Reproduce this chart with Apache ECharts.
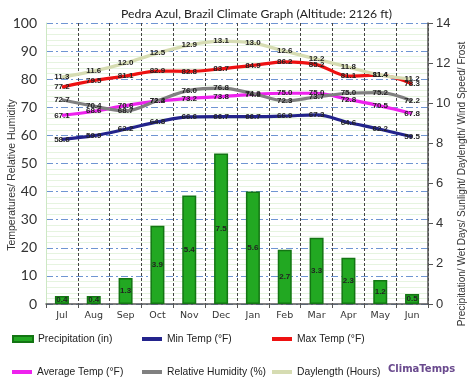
<!DOCTYPE html>
<html><head><meta charset="utf-8">
<script src="https://cdn.jsdelivr.net/npm/echarts@6/dist/echarts.min.js"></script>
<style>html,body{margin:0;padding:0;background:#fff}#c{width:474px;height:389px}</style>
</head><body><div id="c"></div>
<script>
const months = ['Jul','Aug','Sep','Oct','Nov','Dec','Jan','Feb','Mar','Apr','May','Jun'];
const precipitation = [0.4,0.4,1.3,3.9,5.4,7.5,5.6,2.7,3.3,2.3,1.2,0.5];
const minTemp = [58.6,59.9,62.2,64.8,66.6,66.7,66.7,66.9,67.3,64.6,62.2,59.5];
const maxTemp = [77.2,79.5,81.1,82.9,82.8,83.7,84.9,86.2,85.2,81.1,81.4,78.3];
const avgTemp = [67.1,68.6,70.6,72.2,73.2,73.8,74.6,75.0,75.0,72.8,70.5,67.8];
const humidity = [72.7,70.4,68.7,72.4,76.0,76.8,74.9,72.3,73.7,75.0,75.2,72.2];
const daylength = [11.3,11.6,12.0,12.5,12.9,13.1,13.0,12.6,12.2,11.8,11.4,11.2];
const leftTicks = [0,100,10];
const rightTicks = [0,14,2];

const chart = echarts.init(document.getElementById('c'), null, {renderer:'canvas'});
const lblFont = {fontFamily:'Liberation Sans, Arial', fontSize:8, fontWeight:'bold', color:'#222',
  formatter:p=>Number(p.value).toFixed(1)};
function lineSeries(name, data, color, axis){
  return {name, type:'line', data, yAxisIndex:axis, smooth:0.35, symbol:'circle', symbolSize:0,
    lineStyle:{color, width:3.2}, itemStyle:{color},
    label:{show:true, position:'inside', ...lblFont}, z:3};
}
const legendBase = {icon:'rect', itemWidth:20, itemHeight:4, itemGap:2,
  textStyle:{fontFamily:'Liberation Sans, Arial', fontSize:10.3, color:'#222'}, selectedMode:false};
const legends = [
  ['Precipitation (in)',12,334],['Min Temp (°F)',142,334],['Max Temp (°F)',272,334],
  ['Average Temp (°F)',12,367],['Relative Humidity (%)',142,367],['Daylength (Hours)',272,367]
].map(([n,l,t],i)=>Object.assign({}, legendBase, {data:[n], left:l, top:t, padding:0,
  itemHeight: i===0?6:4}));

chart.setOption({
  animation:false,
  title:{text:'Pedra Azul, Brazil Climate Graph (Altitude: 2126 ft)', left:116, top:3,
    textStyle:{fontFamily:'Lato, Open Sans', fontSize:12.2, fontWeight:'normal', color:'#222'}},
  legend: legends,
  graphic:[
    {type:'text', left:388, top:364, style:{text:'ClimaTemps', fill:'#6a4a8e',
      font:'bold 10px Verdana, DejaVu Sans'}},
    {type:'text', x:12, y:175, rotation:Math.PI/2, style:{text:'Temperatures/ Relative Humidity',
      fill:'#333', font:'10.5px Liberation Sans, Arial', align:'center', verticalAlign:'middle'}},
    {type:'text', x:462, y:184, rotation:Math.PI/2,
      style:{text:'Precipitation/ Wet Days/ Sunlight/ Daylength/ Wind Speed/ Frost',
      fill:'#333', font:'10px Liberation Sans, Arial', align:'center', verticalAlign:'middle'}}
  ],
  grid:{left:46, right:46, top:23, bottom:85, containLabel:false, outerBoundsMode:'none'},
  xAxis:{type:'category', data:months, boundaryGap:true,
    axisLine:{lineStyle:{color:'#555', width:1.5}},
    axisTick:{show:true, length:4, lineStyle:{color:'#555'}},
    axisLabel:{fontFamily:'DejaVu Sans', fontSize:9.5, color:'#333', margin:7},
    splitLine:{show:true, lineStyle:{color:'#444', type:[3,2], width:1}}},
  yAxis:[
    {type:'value', min:leftTicks[0], max:leftTicks[1], interval:leftTicks[2], position:'left',
     axisLine:{show:true, lineStyle:{color:'#cde8c4'}}, axisTick:{show:false},
     axisLabel:{fontFamily:'Lato, Open Sans', fontSize:14, color:'#333', margin:9},
     splitLine:{show:true, lineStyle:{color:'#6f95d2', type:[7,3,2,3], width:1}},
     minorTick:{show:false, splitNumber:5},
     minorSplitLine:{show:true, lineStyle:{color:'#e6f4e0', width:1}}},
    {type:'value', min:rightTicks[0], max:rightTicks[1], interval:rightTicks[2], position:'right',
     axisLine:{show:true, lineStyle:{color:'#555', width:1.5}},
     axisTick:{show:true, length:5, lineStyle:{color:'#555'}},
     axisLabel:{fontFamily:'Liberation Sans, Arial', fontSize:13, color:'#333', margin:8},
     splitLine:{show:false}}
  ],
  series:[
    {name:'Precipitation (in)', type:'bar', data:precipitation, yAxisIndex:1, barWidth:14,
     itemStyle:{color:'#22a822', borderColor:'#137513', borderWidth:1.5},
     label:{show:true, position:'inside', ...lblFont}, z:2},
    lineSeries('Min Temp (°F)', minTemp, '#23238c', 0),
    lineSeries('Max Temp (°F)', maxTemp, '#ee1111', 0),
    lineSeries('Average Temp (°F)', avgTemp, '#ee22ee', 0),
    lineSeries('Relative Humidity (%)', humidity, '#808080', 0),
    lineSeries('Daylength (Hours)', daylength, '#d6dcb2', 1)
  ]
});
</script></body></html>
